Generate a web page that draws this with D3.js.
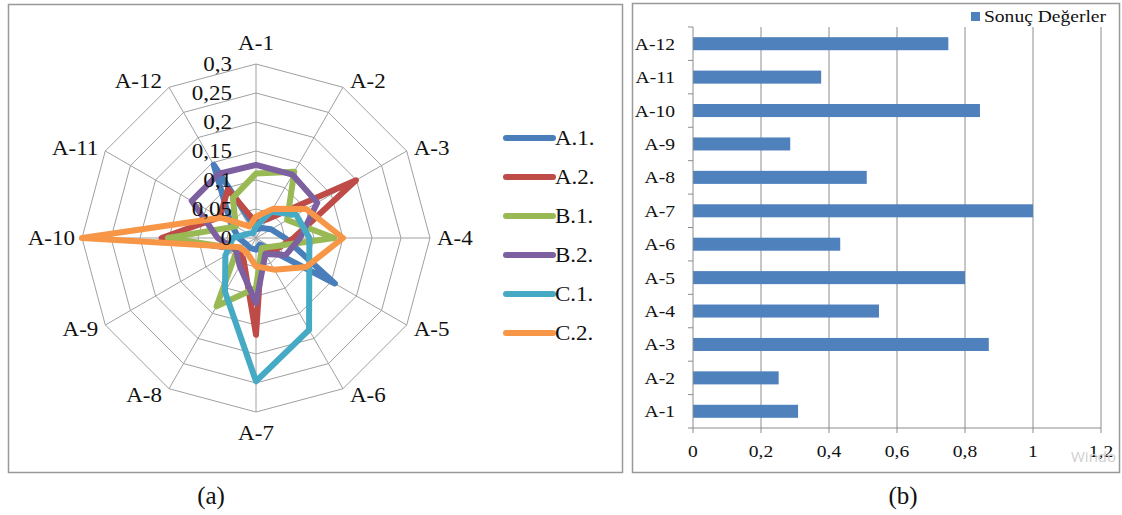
<!DOCTYPE html>
<html>
<head>
<meta charset="utf-8">
<script src="https://cdn.jsdelivr.net/npm/d3@7"></script>
<style>
  body { margin: 0; background: #fff; }
  text { font-family: "Liberation Serif", "Times New Roman", serif; fill: #111; }
</style>
</head>
<body>
<div id="chart"></div>
<script>
// data
const axisNames = ["A-1","A-2","A-3","A-4","A-5","A-6","A-7","A-8","A-9","A-10","A-11","A-12"];
const seriesNames = ["A.1.","A.2.","B.1.","B.2.","C.1.","C.2."];
const a1 = [0.015, 0.02, 0.03, 0.05, 0.157, 0.013, 0.02, 0.02, 0.02, 0.03, 0.05, 0.146];
const a2 = [0.026, 0.037, 0.199, 0.065, 0.04, 0.02, 0.167, 0.043, 0.038, 0.163, 0.072, 0.097];
const b1 = [0.111, 0.132, 0.062, 0.135, 0.03, 0.02, 0.086, 0.136, 0.037, 0.152, 0.04, 0.08];
const b2 = [0.126, 0.126, 0.122, 0.076, 0.059, 0.032, 0.112, 0.056, 0.04, 0.066, 0.128, 0.128];
const c1 = [0.02, 0.052, 0.08, 0.092, 0.106, 0.183, 0.247, 0.107, 0.061, 0.04, 0.015, 0.01];
const c2 = [0.037, 0.058, 0.10, 0.15, 0.10, 0.063, 0.049, 0.03, 0.032, 0.30, 0.07, 0.023];
const radarTicks = [0, 0.05, 0.1, 0.15, 0.2, 0.25, 0.3];

// bar chart (b)
const barNames = ["A-1","A-2","A-3","A-4","A-5","A-6","A-7","A-8","A-9","A-10","A-11","A-12"];
const barValues = [0.309, 0.252, 0.870, 0.547, 0.800, 0.433, 1.0, 0.511, 0.286, 0.844, 0.377, 0.751];
const barTicks = [0, 0.2, 0.4, 0.6, 0.8, 1, 1.2];

const colors = ["#4a7ebb", "#be4b48", "#98b954", "#7d60a0", "#46aac5", "#f79646"];
const gridColor = "#a0a0a0";

const W = 1122, H = 515;
const svg = d3.select("#chart").append("svg")
    .attr("width", W).attr("height", H);

// comma decimals like the original
const fmt = v => String(v).replace(".", ",");

// the original's text looks a bit wide, so stretch it sideways a little
function addText(g, x, y, str, size, anchor) {
    return g.append("text")
        .attr("transform", `translate(${x},${y}) scale(1.15,1)`)
        .attr("dy", "0.35em")
        .attr("text-anchor", anchor || "start")
        .attr("font-size", size)
        .text(str);
}

// panel frames
svg.append("rect").attr("x", 8.5).attr("y", 4.5).attr("width", 614).attr("height", 468)
    .attr("fill", "none").attr("stroke", "#999").attr("stroke-width", 1.5);
svg.append("rect").attr("x", 632.5).attr("y", 3.5).attr("width", 487).attr("height", 469)
    .attr("fill", "none").attr("stroke", "#999").attr("stroke-width", 1.5);

// ---------- radar ----------
const cx = 256, cy = 238, R = 174;
const rScale = d3.scaleLinear().domain([0, 0.3]).range([0, R]);
const angle = i => i * 2 * Math.PI / axisNames.length;

const radar = svg.append("g").attr("transform", `translate(${cx},${cy})`);

// rings
radarTicks.slice(1).forEach(t => {
    const pts = axisNames.map((n, i) => [Math.sin(angle(i)) * rScale(t), -Math.cos(angle(i)) * rScale(t)]);
    radar.append("polygon")
        .attr("points", pts.map(p => p.join(",")).join(" "))
        .attr("fill", "none").attr("stroke", gridColor).attr("stroke-width", 1);
});
// spokes
axisNames.forEach((n, i) => {
    radar.append("line")
        .attr("x1", 0).attr("y1", 0)
        .attr("x2", Math.sin(angle(i)) * R).attr("y2", -Math.cos(angle(i)) * R)
        .attr("stroke", gridColor).attr("stroke-width", 1);
});

// series lines
const radial = d3.lineRadial()
    .angle((d, i) => angle(i))
    .radius(d => rScale(d))
    .curve(d3.curveLinearClosed);

[a1, a2, b1, b2, c1, c2].forEach((vals, k) => {
    radar.append("path")
        .attr("d", radial(vals))
        .attr("fill", "none")
        .attr("stroke", colors[k])
        .attr("stroke-width", 6)
        .attr("stroke-linejoin", "round");
});

// radial tick labels, drawn over the lines
radarTicks.forEach(t => {
    addText(radar, -24, -rScale(t), fmt(t), 20, "end");
});

// category labels around the outside
axisNames.forEach((n, i) => {
    const a = angle(i);
    const vx = Math.sin(a) * R, vy = -Math.cos(a) * R;
    let x = vx, y = vy, anchor = "middle";
    if (i === 0) { y = vy - 21; }
    else if (i === 6) { y = vy + 21; }
    else {
        anchor = vx > 0 ? "start" : "end";
        x = vx + Math.sign(vx) * 7;
        y = vy - Math.cos(a) * 7;
    }
    addText(radar, x, y, n, 20, anchor);
});

// legend
const leg = svg.append("g").attr("transform", "translate(506,138)");
seriesNames.forEach((s, k) => {
    leg.append("line")
        .attr("x1", 0).attr("x2", 47)
        .attr("y1", k * 39).attr("y2", k * 39)
        .attr("stroke", colors[k]).attr("stroke-width", 6)
        .attr("stroke-linecap", "round");
    addText(leg, 49, k * 39, s, 20);
});

// ---------- bar chart ----------
const x = d3.scaleLinear().domain([0, 1.2]).range([693, 1101]);
const y = d3.scaleBand()
    .domain(barNames.slice().reverse())
    .range([27, 428])
    .paddingInner(0.61)
    .paddingOuter(0.305);

const bars = svg.append("g");

// vertical gridlines
barTicks.slice(1).forEach(t => {
    bars.append("line")
        .attr("x1", x(t)).attr("x2", x(t))
        .attr("y1", 27).attr("y2", 433)
        .attr("stroke", "#8c8c8c").attr("stroke-width", 1);
});

bars.selectAll(".bar")
    .data(barNames)
    .enter()
    .append("rect")
    .attr("class", "bar")
    .attr("x", x(0))
    .attr("y", d => y(d))
    .attr("width", (d, i) => x(barValues[i]) - x(0))
    .attr("height", y.bandwidth())
    .attr("fill", "#4f81bd");

// axis lines
bars.append("line").attr("x1", x(0)).attr("x2", x(0)).attr("y1", 27).attr("y2", 433)
    .attr("stroke", "#8c8c8c");
bars.append("line").attr("x1", x(0)).attr("x2", x(1.2)).attr("y1", 428).attr("y2", 428)
    .attr("stroke", "#8c8c8c");

// ticks on the category axis at band edges
const step = y.step();
d3.range(13).forEach(k => {
    const yy = 27 + k * step;
    bars.append("line").attr("x1", x(0) - 5).attr("x2", x(0)).attr("y1", yy).attr("y2", yy)
        .attr("stroke", "#8c8c8c");
});

// category labels
barNames.forEach(n => {
    addText(bars, 675, y(n) + y.bandwidth() / 2, n, 17, "end");
});

// value tick labels
barTicks.forEach(t => {
    addText(bars, x(t), 451, fmt(t), 17, "middle");
});

// legend box
svg.append("rect").attr("x", 971).attr("y", 12).attr("width", 9).attr("height", 9).attr("fill", "#4f81bd");
addText(svg, 984, 16, "Sonuç Değerler", 17);

// the faded watermark bit in the corner
svg.append("text").attr("x", 1071).attr("y", 462)
    .attr("font-size", 15)
    .style("font-family", "'Open Sans', sans-serif")
    .style("fill", "#cfcfcf")
    .text("Windo");

// captions
svg.append("text").attr("x", 211).attr("y", 504).attr("text-anchor", "middle").attr("font-size", 25).text("(a)");
svg.append("text").attr("x", 903).attr("y", 504).attr("text-anchor", "middle").attr("font-size", 25).text("(b)");
</script>
</body>
</html>
